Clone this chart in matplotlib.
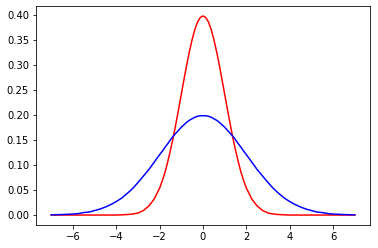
import matplotlib
matplotlib.use('Agg')
import matplotlib.pyplot as plt

# x positions of the right half (finer near the peak), mirrored for the left half
x_half = [0, 0.125, 0.25, 0.375, 0.5, 0.625, 0.75, 0.875, 1, 1.125, 1.25,
          1.375, 1.5, 1.625, 1.75, 1.875, 2, 2.25, 2.5, 2.75, 3, 3.25, 3.5,
          3.75, 4, 4.25, 4.5, 4.75, 5, 5.25, 5.5, 5.75, 6, 6.25, 6.5, 6.75, 7]

# values at those positions
red_half = [0.399, 0.396, 0.387, 0.372, 0.352, 0.328, 0.301, 0.272, 0.242,
            0.212, 0.183, 0.155, 0.130, 0.107, 0.086, 0.069, 0.054, 0.032,
            0.018, 0.009, 0.004, 0.002, 0.001, 0.0004, 0.0, 0.0, 0.0, 0.0,
            0.0, 0.0, 0.0, 0.0, 0.0, 0.0, 0.0, 0.0, 0.0]
blue_half = [0.199, 0.199, 0.198, 0.196, 0.193, 0.190, 0.186, 0.181, 0.176,
             0.170, 0.164, 0.158, 0.151, 0.143, 0.136, 0.128, 0.121, 0.106,
             0.091, 0.078, 0.065, 0.053, 0.043, 0.034, 0.027, 0.021, 0.016,
             0.012, 0.009, 0.006, 0.005, 0.003, 0.002, 0.0015, 0.001, 0.0007,
             0.0004]

x = [-v for v in x_half[:0:-1]] + x_half
red = red_half[:0:-1] + red_half
blue = blue_half[:0:-1] + blue_half

fig = plt.figure(figsize=(378 / 72, 248 / 72), dpi=72)
ax = fig.add_axes([36 / 378, 1 - 225 / 248, 334 / 378, 219 / 248])

ax.plot(x, red, color='red')
ax.plot(x, blue, color='blue')

fig.savefig('out.png', dpi=72)
